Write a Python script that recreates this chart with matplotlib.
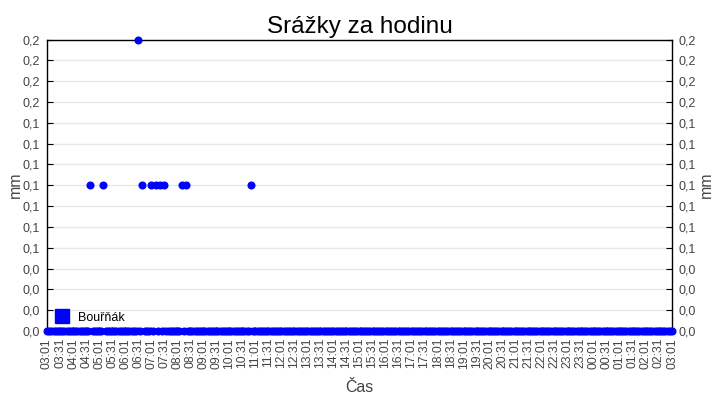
import numpy as np
import pandas as pd
import matplotlib
matplotlib.use('Agg')
import matplotlib.pyplot as plt
import matplotlib.dates as mdates
from matplotlib.ticker import FuncFormatter

# hourly rainfall, samples every 5 minutes from 03:01 to 03:01 next day
# (one row = one hour)
start = '2024-05-01 03:01'
rain = [
    0, 0, 0, 0, 0, 0, 0, 0, 0, 0, 0, 0,
    0, 0, 0, 0, 0, 0, 0, 0, 0.1, 0, 0, 0,
    0, 0, 0.1, 0, 0, 0, 0, 0, 0, 0, 0, 0,
    0, 0, 0, 0, 0, 0, 0.2, 0, 0.1, 0, 0, 0,
    0.1, 0, 0.1, 0, 0.1, 0, 0.1, 0, 0, 0, 0, 0,
    0, 0, 0.1, 0, 0.1, 0, 0, 0, 0, 0, 0, 0,
    0, 0, 0, 0, 0, 0, 0, 0, 0, 0, 0, 0,
    0, 0, 0, 0, 0, 0, 0, 0, 0, 0, 0.1, 0,
    0, 0, 0, 0, 0, 0, 0, 0, 0, 0, 0, 0,
    0, 0, 0, 0, 0, 0, 0, 0, 0, 0, 0, 0,
    0, 0, 0, 0, 0, 0, 0, 0, 0, 0, 0, 0,
    0, 0, 0, 0, 0, 0, 0, 0, 0, 0, 0, 0,
    0, 0, 0, 0, 0, 0, 0, 0, 0, 0, 0, 0,
    0, 0, 0, 0, 0, 0, 0, 0, 0, 0, 0, 0,
    0, 0, 0, 0, 0, 0, 0, 0, 0, 0, 0, 0,
    0, 0, 0, 0, 0, 0, 0, 0, 0, 0, 0, 0,
    0, 0, 0, 0, 0, 0, 0, 0, 0, 0, 0, 0,
    0, 0, 0, 0, 0, 0, 0, 0, 0, 0, 0, 0,
    0, 0, 0, 0, 0, 0, 0, 0, 0, 0, 0, 0,
    0, 0, 0, 0, 0, 0, 0, 0, 0, 0, 0, 0,
    0, 0, 0, 0, 0, 0, 0, 0, 0, 0, 0, 0,
    0, 0, 0, 0, 0, 0, 0, 0, 0, 0, 0, 0,
    0, 0, 0, 0, 0, 0, 0, 0, 0, 0, 0, 0,
    0, 0, 0, 0, 0, 0, 0, 0, 0, 0, 0, 0,
    0,
]
series_name = 'Bouřňák'
title = 'Srážky za hodinu'
xlabel = 'Čas'
ylabel = 'mm'

times = pd.date_range(start, periods=len(rain), freq='5min')
xticks = pd.date_range(times[0], times[-1], freq='30min')
yticks = np.linspace(0, 0.2, 15)

plt.rcParams['font.family'] = ['Liberation Sans', 'DejaVu Sans']
gray = '#444444'

fig = plt.figure(figsize=(7.2, 4.0), dpi=100)
ax = fig.add_axes([47 / 720, 69 / 400, 625 / 720, 291.5 / 400])

ax.plot(times, rain, 'o', color='#0000ff', markersize=4.8, clip_on=False,
        zorder=5, label=series_name)

ax.set_xlim(times[0], times[-1])
ax.set_ylim(0, 0.2)
ax.set_yticks(yticks)
ax.yaxis.set_major_formatter(FuncFormatter(lambda v, p: f'{v:.1f}'.replace('.', ',')))
ax.set_xticks(xticks)
ax.xaxis.set_major_formatter(mdates.DateFormatter('%H:%M'))

ax.grid(axis='y', color='#e8e8e8', linewidth=1)
ax.set_axisbelow(True)
for s in ax.spines.values():
    s.set_color('black')
    s.set_linewidth(1)

ax.tick_params(axis='y', direction='in', length=4, labelsize=9, labelcolor=gray,
               left=True, right=True, labelleft=True, labelright=True, pad=5)
ax.tick_params(axis='x', direction='in', length=3, labelsize=8.8, labelcolor=gray,
               labelrotation=90, pad=5)

ax.set_title(title, fontsize=17.5, pad=5)
ax.set_xlabel(xlabel, fontsize=11.5, color=gray, labelpad=8)
fig.text(15 / 720, 0.5 + 15 / 400, ylabel, rotation=90, fontsize=11.5, color=gray,
         ha='center', va='center')
fig.text(706 / 720, 0.5 + 15 / 400, ylabel, rotation=90, fontsize=11.5, color=gray,
         ha='center', va='center')

ax.legend(loc='lower left', frameon=False, fontsize=9, markerscale=2.2,
          handlelength=1.0, handletextpad=0.8, borderaxespad=0.3,
          bbox_to_anchor=(0, -0.005))
leg = ax.get_legend()
leg.legend_handles[0].set_marker('s')

fig.savefig('out.png', dpi=100)
